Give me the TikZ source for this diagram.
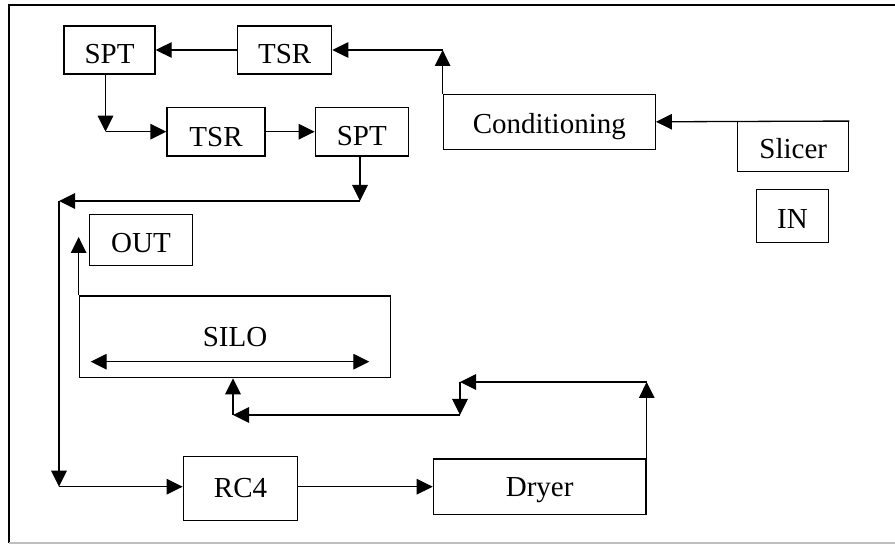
\documentclass[tikz,border=0pt]{standalone}
\usepackage{fontspec}
\setmainfont{Liberation Serif}
\usetikzlibrary{arrows.meta}
\begin{document}
\begin{tikzpicture}[x=1pt,y=-1pt,
  box/.style={draw, line width=1.3pt, inner sep=0pt, text height=19pt, text depth=0pt,
    font=\fontsize{29}{34}\selectfont},
  arr/.style={line width=1.3pt, -{Triangle[length=16pt,width=15.5pt]}},
  dbl/.style={line width=1.3pt, {Triangle[length=16pt,width=15.5pt]}-{Triangle[length=16pt,width=15.5pt]}}]
\useasboundingbox (0,0) rectangle (895,545);
% frame
\draw[line width=2pt] (895,5) -- (9,5) -- (9,543);
\draw[line width=1.5pt, gray!50] (9,543) -- (895,543);

% boxes
\node[box, minimum width=91pt, minimum height=48pt] (spt1) at (109.5,50) {\raisebox{-3.7pt}{SPT}};
\node[box, minimum width=94pt, minimum height=48pt] (tsr1) at (284.7,50) {\raisebox{-3.7pt}{TSR}};
\node[box, minimum width=98pt, minimum height=48.7pt] (tsr2) at (216,131.7) {\raisebox{-5pt}{TSR}};
\node[box, minimum width=93pt, minimum height=48.7pt] (spt2) at (361.8,131.7) {\raisebox{-4.3pt}{SPT}};
\node[box, minimum width=212pt, minimum height=55pt] (cond) at (549.3,121.8) {\raisebox{-1.9pt}{Conditioning}};
\node[box, minimum width=111pt, minimum height=50pt] (slicer) at (793.2,146.7) {\raisebox{-2.8pt}{Slicer}};
\node[box, minimum width=71.6pt, minimum height=52.6pt] (in) at (792.5,216) {\raisebox{-3pt}{IN}};
\node[box, minimum width=103.4pt, minimum height=51pt] (out) at (141,240.2) {\raisebox{-2.8pt}{OUT}};
\node[box, minimum width=311.4pt, minimum height=81.7pt] (silo) at (235,336.8) {SILO};
\node[box, minimum width=114.4pt, minimum height=64pt] (rc4) at (240.5,488.7) {\raisebox{0.7pt}{RC4}};
\node[box, minimum width=212.7pt, minimum height=55.3pt] (dryer) at (539.7,486.7) {Dryer};

% top loop
\draw[arr] (tsr1.west) -- (spt1.east);
\coordinate (c1) at (cond.north west |- tsr1.east);
\draw[arr] (cond.north west) -- (c1);
\draw[arr] (c1) -- (tsr1.east);
\draw[arr] (slicer.north east) -- (cond.east);
\coordinate (c2a) at ([xshift=-4pt]spt1.south);
\coordinate (c2) at (c2a |- tsr2.west);
\draw[arr] (c2a) -- (c2);
\draw[arr] (c2) -- (tsr2.west);
\draw[arr] (tsr2.east) -- (spt2.west);

% down to RC4
\coordinate (c3) at ([xshift=-1.8pt]spt2.south |- 0,201);
\coordinate (c4) at (59,201);
\coordinate (c5) at (c4 |- dryer.west);
\draw[arr] ([xshift=-1.8pt]spt2.south) -- (c3);
\draw[arr] (c3) -- (c4);
\draw[arr] (c4) -- (c5);
\draw[arr] (c5) -- (c5 -| rc4.west);
\draw[arr] (c5 -| rc4.east) -- (dryer.west);

% dryer back to silo
\coordinate (d1) at (dryer.east |- 0,382);
\coordinate (d2) at (460,382);
\coordinate (d3) at (460,415);
\coordinate (d4) at (233,415);
\draw[arr] (dryer.east) -- (d1);
\draw[arr] (d1) -- (d2);
\draw[arr] (d2) -- (d3);
\draw[arr] (d3) -- (d4);
\draw[arr] (d4) -- (d4 |- silo.south);

% silo to out
\coordinate (o1) at (silo.north west |- 0,237);
\draw[arr] (silo.north west) -- (o1);
\coordinate (s1) at (90.7,361.7);
\coordinate (s2) at (369.3,361.7);
\draw[dbl] (s1) -- (s2);
\end{tikzpicture}
\end{document}
